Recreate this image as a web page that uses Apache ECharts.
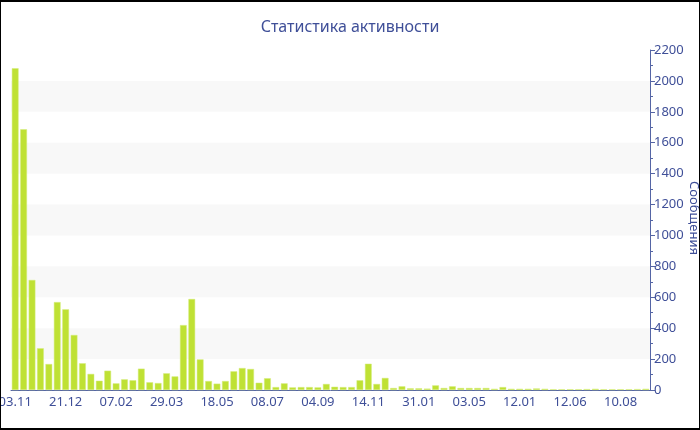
<!DOCTYPE html>
<html>
<head>
<meta charset="utf-8">
<script src="https://cdn.jsdelivr.net/npm/echarts@6/dist/echarts.min.js"></script>
<style>
html,body{margin:0;padding:0;background:#fff;}
#wrap{position:relative;width:700px;height:430px;}
#chart{position:absolute;left:0;top:0;width:700px;height:430px;}
#frame{position:absolute;left:0;top:0;width:700px;height:430px;box-sizing:border-box;
  border-top:2px solid #000;border-bottom:2px solid #000;border-left:1px solid #000;border-right:1px solid #000;pointer-events:none;}
</style>
</head>
<body>
<div id="wrap"><div id="chart"></div><div id="frame"></div></div>
<script>
const titleText = 'Статистика активности';
const yAxisName = 'Сообщения';
const tickLabels = ['03.11','21.12','07.02','29.03','18.05','08.07','04.09','14.11','31.01','03.05','12.01','12.06','10.08'];
const values = [
  2082,1687,712,270,168,569,522,356,173,104,
  60,125,43,69,63,138,50,45,108,88,
  420,589,198,58,41,58,121,142,136,47,
  76,19,43,17,19,19,17,39,21,19,
  19,63,170,39,78,13,24,11,11,9,
  30,13,24,13,13,13,13,8,19,8,
  8,8,10,8,5,5,5,5,6,8,
  5,5,5,5,6,8
];
const labelStep = 6;
const categories = values.map((v, i) => String(i));

const txt = '#3f4f98';
const axisCol = '#5565a5';
const font = '"Noto Sans", sans-serif';

const chart = echarts.init(document.getElementById('chart'), null, {renderer: 'canvas'});
chart.setOption({
  animation: false,
  backgroundColor: '#fff',
  title: {
    text: titleText, left: 'center', top: 14,
    textStyle: {color: txt, fontSize: 16, fontWeight: 'normal', fontFamily: font}
  },
  grid: {left: 11, right: 50, top: 50, bottom: 40, containLabel: false, outerBoundsMode: 'none'},
  graphic: [{
    type: 'text',
    x: 694, y: 218,
    rotation: -Math.PI / 2,
    style: {
      text: yAxisName, fill: txt, font: '13px "Noto Sans", sans-serif',
      align: 'center', verticalAlign: 'middle'
    }
  }],
  xAxis: {
    type: 'category',
    data: categories,
    axisLine: {lineStyle: {color: axisCol, width: 1}},
    axisTick: {alignWithLabel: true, interval: (i) => i % labelStep === 0, length: 4, lineStyle: {color: axisCol}},
    axisLabel: {
      interval: (i) => i % labelStep === 0,
      color: txt, fontSize: 13, fontFamily: font, margin: 6,
      formatter: (v, i) => (i % labelStep === 0 ? (tickLabels[i / labelStep] || '') : '')
    },
    splitLine: {show: false}
  },
  yAxis: {
    type: 'value',
    position: 'right',
    min: 0, max: 2200, interval: 200,
    axisLine: {show: true, lineStyle: {color: axisCol, width: 1}},
    axisTick: {show: true, length: 5, lineStyle: {color: axisCol}},
    minorTick: {show: true, splitNumber: 2, length: 3, lineStyle: {color: axisCol}},
    axisLabel: {color: txt, fontSize: 13, fontFamily: font, margin: 4, formatter: (v) => String(v)},
    splitLine: {show: false},
    splitArea: {show: true, areaStyle: {color: ['rgba(255,255,255,0)', '#f8f8f8']}}
  },
  series: [{
    type: 'bar',
    data: values,
    barCategoryGap: '20%',
    itemStyle: {color: '#bfe134', borderColor: '#d4ec7c', borderWidth: 0.5}
  }]
});
</script>
</body>
</html>
